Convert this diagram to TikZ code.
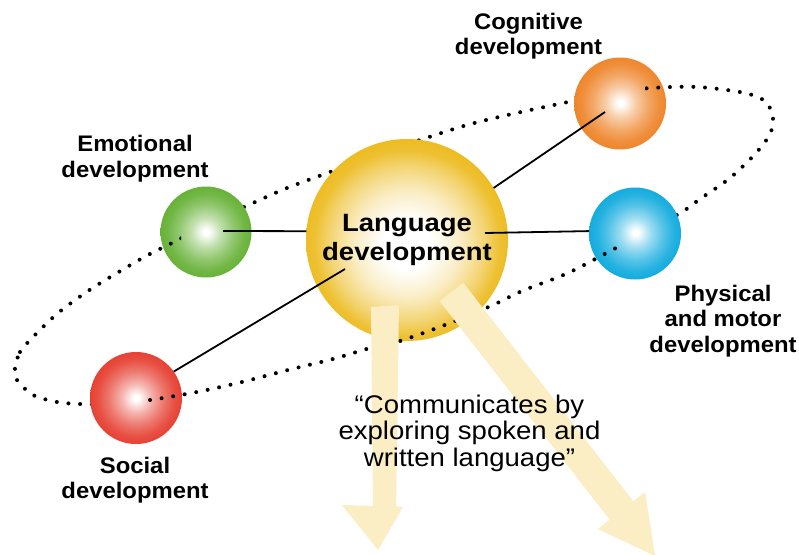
\documentclass[tikz,border=0pt]{standalone}
\usepackage{fontspec}
\setmainfont{Liberation Sans}
\newfontfamily\labfont{Liberation Sans}[FakeStretch=1.06]
\newfontfamily\langfont{Liberation Sans}[FakeStretch=1.1]
\newfontfamily\quotefont{Liberation Sans}[FakeStretch=1.08]

\definecolor{cyellow}{RGB}{236,186,28}
\definecolor{cgreen}{RGB}{104,178,56}
\definecolor{corange}{RGB}{238,134,44}
\definecolor{cblue}{RGB}{20,172,222}
\definecolor{cred}{RGB}{230,66,52}
\definecolor{arrowcol}{RGB}{251,237,196}

\pgfdeclareradialshading{shyellow}{\pgfpoint{0bp}{-1.5bp}}{color(0bp)=(white); color(6bp)=(white); color(13bp)=(cyellow!25!white); color(19bp)=(cyellow!60!white); color(23bp)=(cyellow!90!white); color(26.5bp)=(cyellow); color(50bp)=(cyellow)}
\pgfdeclareradialshading{shgreen}{\pgfpoint{0bp}{0bp}}{color(0bp)=(white); color(1.5bp)=(white); color(8bp)=(cgreen!40!white); color(15bp)=(cgreen!72!white); color(21bp)=(cgreen!93!white); color(25bp)=(cgreen); color(50bp)=(cgreen)}
\pgfdeclareradialshading{shorange}{\pgfpoint{0.3bp}{0.5bp}}{color(0bp)=(white); color(1.5bp)=(white); color(8bp)=(corange!40!white); color(15bp)=(corange!72!white); color(21bp)=(corange!93!white); color(25bp)=(corange); color(50bp)=(corange)}
\pgfdeclareradialshading{shblue}{\pgfpoint{0.3bp}{0.5bp}}{color(0bp)=(white); color(1.5bp)=(white); color(8bp)=(cblue!40!white); color(15bp)=(cblue!72!white); color(21bp)=(cblue!93!white); color(25bp)=(cblue); color(50bp)=(cblue)}
\pgfdeclareradialshading{shred}{\pgfpoint{0bp}{0bp}}{color(0bp)=(white); color(1.5bp)=(white); color(8bp)=(cred!40!white); color(15bp)=(cred!72!white); color(21bp)=(cred!93!white); color(25bp)=(cred); color(50bp)=(cred)}

\tikzset{
  sphere/.style={circle, inner sep=0pt, outer sep=0pt, draw=none, minimum size=#1},
  orbitdots/.style={line width=4pt, line cap=round, dash pattern=on 0pt off 11.7pt, black},
  link/.style={line width=1.8pt, black},
  bigarrow/.style={fill=arrowcol, draw=none},
  lab/.style={font=\labfont\bfseries\fontsize{22.5}{25.5}\selectfont, align=center, inner sep=0pt, anchor=north, text=black},
  quotetext/.style={font=\quotefont\fontsize{25.5}{26.5}\selectfont, align=center, inner sep=0pt, anchor=north, text=black},
  langtext/.style={font=\langfont\bfseries\fontsize{25}{29.5}\selectfont, align=center, text=black}
}

\begin{document}
\begin{tikzpicture}[x=1pt,y=-1pt]
\useasboundingbox (0,0) rectangle (799,554);
\clip (0,0) rectangle (799,554);
\fill[white] (0,0) rectangle (799,554);

\def\orbit{plot[smooth cycle] coordinates {(15,368) (20,352) (33,337) (58,313) (88,291) (117,273) (148,255) (176,241) (214,221) (253,203) (287,188) (330,172) (375,155) (420,140) (467,125) (512,114) (568,102) (610,93) (651,88) (698,87) (745,93) (766,102) (773,118) (770,134) (756,153) (730,178) (700,199) (682,212) (648,231) (614,249) (568,273) (522,291) (493,305) (450,323) (403,340) (370,348) (333,359) (288,370) (242,382) (197,392) (150,400) (115,404) (80,404) (57,402) (33,395) (17,380)}}

% back part of the orbit
\draw[orbitdots] \orbit;

% spheres
\node[sphere=202pt, shading=shyellow, langtext] (lang) at (407,240) {Language\\development};
\node[sphere=91pt, shading=shgreen] (green) at (206,232) {};
\node[sphere=92pt, shading=shorange] (orange) at (620,103.5) {};
\node[sphere=92pt, shading=shblue] (blue) at (635,233.5) {};
\node[sphere=92pt, shading=shred] (red) at (136,398) {};

% front part of the orbit, passing over the spheres
\begin{scope}
  \clip (0,0) rectangle (181,554);
  \clip (green.center) circle [radius=47pt];
  \draw[orbitdots] \orbit;
\end{scope}
\begin{scope}
  \clip (144,0) rectangle (799,554);
  \clip (red.center) circle [radius=48pt];
  \draw[orbitdots] \orbit;
\end{scope}
\begin{scope}
  \clip (0,0) rectangle (621,554);
  \clip (blue.center) circle [radius=48pt];
  \draw[orbitdots] \orbit;
\end{scope}
\begin{scope}
  \clip (645,0) rectangle (799,554);
  \clip (orange.center) circle [radius=48pt];
  \draw[orbitdots] \orbit;
\end{scope}
\begin{scope}
  \clip (0,280) rectangle (799,554);
  \clip (lang.center) circle [radius=103pt];
  \draw[orbitdots] \orbit;
\end{scope}

% pale arrows
\fill[bigarrow] (371,307) -- (399,305) -- (396,506) -- (403,507) -- (378,550) -- (342,505) -- (373,506) -- cycle;
\fill[bigarrow] (439.7,301.2) -- (463.3,282.8) -- (633.3,501.3) -- (645.2,492.1) -- (655,556) -- (597.8,528.9) -- (609.7,519.7) -- cycle;

% connectors
\coordinate (gEnd) at (223,231);
\coordinate (rEnd) at (345,269);
\coordinate (oEnd) at (605,112);
\coordinate (bEnd) at (485,233);
\draw[link] (gEnd) -- (lang.175);
\draw[link] (red.35) -- (rEnd);
\draw[link] (oEnd) -- (lang.31);
\draw[link] (bEnd) -- (blue.177);

% labels
\node[lab] (cogL) at (528.5,12.7) {Cognitive\\development};
\node[lab] (emoL) at (135,135) {Emotional\\development};
\node[lab] (phyL) at (723,284.5) {Physical\\and motor\\development};
\node[lab] (socL) at (135,456.8) {Social\\development};
\node[quotetext] (quote) at (469.5,394.4) {“Communicates by\\exploring spoken and\\written language”};
\end{tikzpicture}
\end{document}
